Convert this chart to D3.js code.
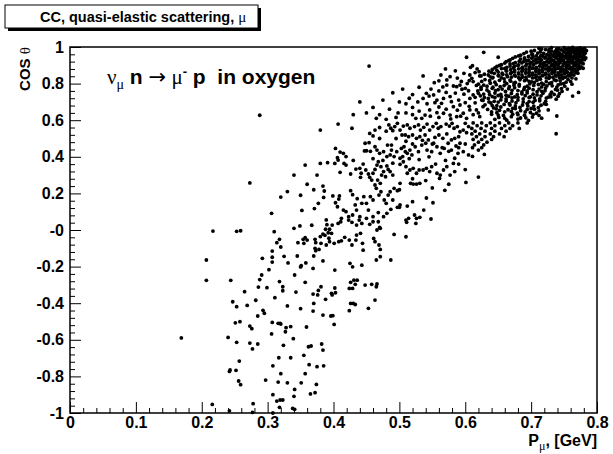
<!DOCTYPE html>
<html><head><meta charset="utf-8">
<script src="https://cdn.jsdelivr.net/npm/d3@7"></script>
<style>
body{margin:0;background:#fff}
svg{display:block}
text{font-family:"Liberation Sans",Arial,Helvetica,sans-serif;font-weight:bold;fill:#000;white-space:pre}
.sym{font-family:"Liberation Serif","Times New Roman",serif;font-weight:normal}
.arr{font-family:"DejaVu Sans",sans-serif;font-weight:normal}
</style>
</head><body>
<svg id="c" width="613" height="454"></svg>
<script>
const titleText = "CC, quasi-elastic scattering, ";
const xTicks = [0, 0.1, 0.2, 0.3, 0.4, 0.5, 0.6, 0.7, 0.8];
const xTickLabels = ["0", "0.1", "0.2", "0.3", "0.4", "0.5", "0.6", "0.7", "0.8"];
const yTicks = [-1, -0.8, -0.6, -0.4, -0.2, 0, 0.2, 0.4, 0.6, 0.8, 1];
const yTickLabels = ["-1", "-0.8", "-0.6", "-0.4", "-0.2", "-0", "0.2", "0.4", "0.6", "0.8", "1"];

// events: [P_mu (GeV), cos theta]
const eventsLow = [
[0.377,0.146],[0.403,0.149],[0.406,0.127],[0.371,0.117],[0.352,0.107],[0.306,0.091],[0.389,0.055],[0.407,0.036],[0.367,0.026],[0.349,0.022],[0.390,0.029],[0.398,0.027],[0.340,0.009],[0.388,0.004],[0.394,0.004],[0.217,-0.006],[0.253,-0.007],[0.259,-0.004],[0.310,-0.009],[0.392,-0.015],[0.397,-0.018],[0.384,-0.022],[0.387,-0.029],[0.357,-0.042],[0.354,-0.051],[0.360,-0.055],[0.318,-0.051],[0.372,-0.051],[0.380,-0.036],[0.393,-0.045],[0.314,-0.069],[0.346,-0.069],[0.355,-0.073],[0.373,-0.069],[0.381,-0.073],[0.389,-0.082],[0.401,-0.073],[0.408,-0.064],[0.394,-0.064],[0.320,-0.093],[0.372,-0.100],[0.378,-0.106],[0.373,-0.113],[0.307,-0.115],[0.207,-0.164],[0.292,-0.155],[0.307,-0.149],[0.325,-0.144],[0.345,-0.142],[0.370,-0.142],[0.307,-0.175],[0.331,-0.180],[0.358,-0.180],[0.384,-0.169],[0.351,-0.195],[0.350,-0.202],[0.302,-0.217],[0.369,-0.210],[0.402,-0.219],[0.291,-0.246],[0.341,-0.246],[0.288,-0.271],[0.244,-0.275],[0.207,-0.275],[0.318,-0.282],[0.357,-0.286],[0.286,-0.312],[0.299,-0.315],[0.323,-0.310],[0.381,-0.310],[0.377,-0.330],[0.402,-0.317],[0.403,-0.343],[0.397,-0.346],[0.398,-0.355],[0.369,-0.350],[0.376,-0.355],[0.265,-0.337],[0.323,-0.332],[0.343,-0.339],[0.311,-0.370],[0.388,-0.379],[0.247,-0.392],[0.282,-0.384],[0.253,-0.419],[0.269,-0.412],[0.330,-0.415],[0.350,-0.430],[0.370,-0.401],[0.369,-0.443],[0.293,-0.439],[0.295,-0.455],[0.285,-0.470],[0.384,-0.465],[0.396,-0.470],[0.399,-0.468],
[0.251,-0.507],[0.258,-0.501],[0.307,-0.505],[0.319,-0.510],[0.316,-0.510],[0.320,-0.514],[0.328,-0.534],[0.335,-0.528],[0.359,-0.530],[0.401,-0.516],[0.273,-0.525],[0.276,-0.539],[0.327,-0.556],[0.306,-0.568],[0.240,-0.587],[0.253,-0.614],[0.273,-0.618],[0.285,-0.623],[0.324,-0.630],[0.339,-0.594],[0.362,-0.638],[0.366,-0.634],[0.382,-0.623],[0.384,-0.656],[0.277,-0.650],[0.355,-0.685],[0.317,-0.698],[0.335,-0.698],[0.257,-0.716],[0.363,-0.736],[0.375,-0.747],[0.385,-0.742],[0.243,-0.765],[0.242,-0.773],[0.252,-0.767],[0.308,-0.742],[0.357,-0.785],[0.320,-0.785],[0.297,-0.820],[0.256,-0.825],[0.259,-0.845],[0.316,-0.831],[0.330,-0.835],[0.351,-0.835],[0.374,-0.844],[0.341,-0.871],[0.365,-0.896],[0.372,-0.889],[0.308,-0.900],[0.340,-0.909],[0.314,-0.935],[0.319,-0.929],[0.323,-0.929],[0.216,-0.953],[0.278,-0.949],[0.318,-0.969],[0.338,-0.975],[0.341,-0.980],[0.242,-0.988],[0.277,-0.997],[0.308,-1.000],[0.169,-0.590]
];
const eventsMid = [
[0.407,0.579],[0.428,0.556],[0.380,0.546],[0.484,0.574],[0.487,0.556],[0.490,0.543],[0.493,0.565],[0.497,0.583],[0.501,0.546],[0.504,0.519],[0.506,0.568],[0.512,0.574],[0.516,0.556],[0.523,0.565],[0.529,0.574],[0.532,0.546],[0.537,0.561],[0.542,0.579],[0.546,0.546],[0.551,0.565],[0.556,0.583],[0.559,0.556],[0.563,0.565],[0.571,0.579],[0.576,0.568],[0.580,0.583],[0.583,0.556],[0.588,0.565],[0.592,0.537],[0.597,0.546],[0.602,0.532],[0.605,0.565],[0.600,0.583],
[0.455,0.528],[0.460,0.514],[0.463,0.546],[0.509,0.519],[0.514,0.510],[0.520,0.519],[0.526,0.501],[0.531,0.510],[0.539,0.519],[0.544,0.492],[0.554,0.506],[0.560,0.519],[0.566,0.501],[0.572,0.525],[0.579,0.492],[0.584,0.501],[0.590,0.510],
[0.448,0.474],[0.454,0.477],[0.463,0.455],[0.466,0.437],[0.450,0.433],[0.447,0.432],[0.456,0.430],[0.488,0.464],[0.482,0.464],[0.488,0.437],[0.496,0.428],[0.503,0.446],[0.507,0.455],[0.509,0.428],[0.512,0.419],[0.516,0.437],[0.519,0.410],[0.524,0.455],[0.529,0.428],[0.534,0.464],[0.540,0.474],[0.542,0.437],[0.549,0.428],[0.552,0.474],[0.557,0.455],[0.562,0.419],[0.568,0.446],[0.574,0.474],[0.579,0.437],[0.586,0.459],[0.592,0.474],[0.597,0.428],[0.605,0.410],[0.584,0.392],[0.589,0.419],
[0.403,0.446],[0.410,0.426],[0.415,0.419],[0.419,0.401],[0.406,0.395],[0.407,0.382],[0.470,0.419],[0.476,0.428],[0.481,0.401],[0.486,0.410],[0.492,0.401],[0.501,0.392],[0.505,0.401],
[0.380,0.364],[0.391,0.368],[0.402,0.364],[0.410,0.315],[0.419,0.355],[0.416,0.364],[0.426,0.306],[0.434,0.333],[0.440,0.337],[0.442,0.310],[0.441,0.288],[0.449,0.328],[0.453,0.306],[0.455,0.288],[0.458,0.273],[0.460,0.310],[0.463,0.331],[0.466,0.355],[0.468,0.373],[0.472,0.346],[0.476,0.319],[0.481,0.350],[0.483,0.331],[0.486,0.319],[0.473,0.300],[0.467,0.273],[0.463,0.246],[0.471,0.255],[0.479,0.291],
[0.501,0.359],[0.506,0.373],[0.510,0.346],[0.512,0.310],[0.516,0.328],[0.521,0.337],[0.526,0.310],[0.530,0.328],[0.536,0.328],[0.541,0.337],[0.546,0.319],[0.549,0.346],[0.557,0.310],[0.562,0.300],[0.567,0.328],[0.572,0.346],[0.577,0.300],[0.584,0.319],[0.582,0.364],[0.501,0.255],[0.517,0.255],[0.521,0.251],[0.526,0.251],[0.531,0.255],[0.561,0.282],[0.601,0.260],
[0.384,0.240],[0.386,0.213],[0.385,0.178],[0.399,0.186],[0.409,0.186],[0.408,0.169],[0.415,0.109],[0.419,0.100],[0.426,0.215],[0.429,0.193],[0.433,0.137],[0.436,0.171],[0.443,0.146],[0.446,0.182],[0.450,0.146],[0.453,0.109],[0.456,0.182],[0.460,0.164],[0.465,0.228],[0.469,0.191],[0.472,0.209],[0.477,0.164],[0.480,0.146],[0.483,0.191],[0.486,0.209],[0.490,0.164],[0.492,0.228],[0.497,0.215],[0.500,0.124],[0.501,0.137],[0.512,0.131],[0.520,0.155],[0.541,0.175],[0.551,0.149],[0.537,0.109],[0.569,0.217],[0.548,0.060],
[0.412,0.064],[0.423,0.073],[0.429,0.082],[0.435,0.109],[0.440,0.073],[0.450,0.064],[0.460,0.073],[0.468,0.095],[0.476,0.073],[0.481,0.091],[0.487,0.113],[0.497,0.124],[0.510,0.054],[0.514,0.064],[0.523,0.082],[0.526,0.064],[0.531,0.069],[0.511,0.042],
[0.411,0.045],[0.423,0.054],[0.428,0.042],[0.435,0.027],[0.439,0.054],[0.443,0.036],[0.455,0.031],[0.460,0.045],[0.468,0.045],[0.471,0.009],[0.466,0.000],[0.470,0.014],[0.461,-0.046],[0.463,-0.064],[0.469,-0.082],[0.471,-0.106],[0.441,-0.018],[0.435,-0.028],[0.434,-0.055],[0.444,-0.073],[0.445,-0.110],[0.424,-0.055],[0.428,-0.082],[0.417,-0.040],[0.412,-0.059],[0.492,-0.024],[0.510,-0.037],[0.525,0.036],
[0.487,-0.164],[0.471,-0.146],[0.443,-0.192],[0.429,-0.201],[0.425,-0.182],[0.465,-0.164],[0.431,-0.274],[0.426,-0.286],[0.436,-0.274],[0.433,-0.297],[0.429,-0.319],[0.424,-0.319],[0.448,-0.301],[0.458,-0.297],[0.466,-0.295],[0.465,-0.310],[0.463,-0.383],[0.453,-0.428],[0.430,-0.401],[0.426,-0.401],[0.433,-0.407],[0.424,-0.441],
[0.470,0.560],[0.480,0.540],[0.495,0.500],[0.510,0.485],[0.520,0.470],[0.535,0.490],[0.550,0.470],[0.565,0.450],[0.575,0.430],[0.590,0.450],[0.600,0.470],[0.545,0.400],[0.530,0.385],[0.555,0.360],[0.570,0.380],[0.590,0.360],[0.600,0.330],[0.515,0.390],[0.490,0.365],[0.475,0.380],[0.460,0.390],[0.445,0.360],[0.430,0.380],[0.520,0.280],[0.540,0.270],[0.550,0.230],[0.575,0.250],[0.490,0.300],[0.500,0.220],[0.470,0.500]
];
const eventsUpperMid = [
[0.536,0.842],[0.563,0.847],[0.577,0.838],[0.608,0.889],[0.611,0.898],[0.607,0.847],[0.610,0.829],[0.606,0.816],[0.612,0.811],[0.615,0.860],[0.621,0.865],[0.572,0.792],[0.582,0.787],[0.587,0.783],[0.592,0.792],[0.595,0.769],[0.600,0.774],[0.605,0.761],[0.541,0.747],[0.545,0.732],[0.536,0.719],[0.552,0.738],[0.557,0.710],[0.554,0.696],[0.564,0.692],[0.567,0.719],[0.577,0.729],[0.579,0.701],[0.582,0.674],[0.590,0.710],[0.592,0.683],[0.600,0.696],[0.607,0.719],[0.615,0.725],[0.620,0.747],[0.625,0.710],[0.627,0.674],[0.617,0.656],[0.607,0.656],[0.597,0.638],[0.587,0.619],[0.577,0.628],[0.567,0.638],[0.557,0.641],[0.546,0.656],[0.539,0.628],[0.534,0.610],[0.622,0.619],[0.602,0.610],
[0.548,0.770],[0.560,0.760],[0.571,0.752],[0.585,0.748],[0.598,0.742],[0.612,0.738],[0.566,0.782],[0.594,0.812],[0.603,0.800],[0.617,0.790],[0.588,0.830],[0.598,0.856],[0.572,0.820],[0.553,0.805],[0.542,0.690],[0.560,0.672],[0.571,0.660],[0.588,0.655],[0.606,0.676],[0.615,0.695],[0.547,0.622],[0.560,0.615],[0.578,0.607],[0.593,0.622],[0.612,0.630],[0.620,0.640],[0.528,0.700],[0.530,0.650],[0.520,0.630],[0.585,0.870],[0.570,0.880],[0.560,0.815],[0.624,0.780],[0.622,0.842],[0.618,0.880],
[0.475,0.710],[0.490,0.750],[0.505,0.770],[0.510,0.690],[0.460,0.670],[0.440,0.700],[0.480,0.605],[0.465,0.610],[0.450,0.640],[0.520,0.740],[0.530,0.780],[0.498,0.640],
[0.454,0.896],[0.510,0.640],[0.495,0.615],[0.520,0.670],[0.500,0.700],[0.470,0.630],[0.485,0.660],[0.515,0.720],[0.525,0.610],[0.430,0.630],[0.288,0.627],[0.273,0.257],
[0.357,0.355],[0.340,0.300],[0.360,0.250],[0.330,0.210],[0.350,0.190],[0.370,0.220],[0.375,0.300],[0.320,0.180]
];
const eventsHigh = [
[0.712,0.993],[0.731,0.997],[0.742,0.991],[0.750,0.996],[0.757,0.992],[0.763,0.998],[0.769,0.990],[0.775,0.995],[0.781,0.993],
[0.705,0.981],[0.722,0.986],[0.737,0.979],[0.746,0.984],[0.753,0.987],[0.760,0.980],[0.766,0.985],[0.772,0.982],[0.778,0.987],[0.784,0.980],
[0.693,0.972],[0.710,0.967],[0.727,0.973],[0.735,0.969],[0.743,0.966],[0.750,0.972],[0.757,0.968],[0.763,0.974],[0.770,0.967],[0.776,0.971],[0.782,0.966],
[0.684,0.955],[0.701,0.960],[0.715,0.954],[0.724,0.958],[0.733,0.953],[0.740,0.959],[0.747,0.955],[0.754,0.961],[0.760,0.954],[0.767,0.958],[0.773,0.952],[0.779,0.957],
[0.676,0.946],[0.690,0.941],[0.703,0.947],[0.713,0.942],[0.722,0.945],[0.730,0.940],[0.738,0.946],[0.745,0.943],[0.752,0.948],[0.759,0.941],[0.765,0.946],[0.771,0.942],[0.777,0.947],[0.783,0.940],
[0.668,0.929],[0.684,0.934],[0.696,0.928],[0.707,0.933],[0.716,0.930],[0.726,0.935],[0.734,0.927],[0.742,0.932],[0.749,0.928],[0.756,0.934],[0.763,0.929],[0.769,0.933],[0.775,0.927],[0.781,0.931],
[0.662,0.920],[0.676,0.915],[0.689,0.921],[0.700,0.916],[0.711,0.919],[0.720,0.914],[0.729,0.920],[0.737,0.916],[0.745,0.922],[0.752,0.915],[0.760,0.919],[0.767,0.914],[0.774,0.920],
[0.655,0.903],[0.668,0.908],[0.681,0.902],[0.693,0.907],[0.704,0.904],[0.714,0.909],[0.723,0.901],[0.732,0.906],[0.741,0.903],[0.749,0.908],[0.757,0.902],[0.765,0.907],[0.772,0.903],[0.779,0.909],
[0.648,0.894],[0.663,0.889],[0.675,0.895],[0.687,0.890],[0.698,0.893],[0.708,0.888],[0.718,0.894],[0.727,0.890],[0.736,0.896],[0.744,0.889],[0.753,0.893],[0.761,0.888],[0.769,0.895],[0.776,0.891],
[0.641,0.877],[0.655,0.882],[0.669,0.876],[0.681,0.881],[0.692,0.878],[0.702,0.883],[0.712,0.875],[0.722,0.880],[0.731,0.877],[0.740,0.882],[0.749,0.876],[0.758,0.881],[0.766,0.877],[0.774,0.883],
[0.636,0.868],[0.650,0.863],[0.663,0.869],[0.675,0.864],[0.686,0.867],[0.697,0.862],[0.707,0.868],[0.717,0.864],[0.727,0.870],[0.736,0.863],[0.745,0.867],[0.755,0.862],[0.764,0.868],
[0.629,0.851],[0.644,0.856],[0.657,0.850],[0.669,0.855],[0.681,0.852],[0.692,0.857],[0.702,0.849],[0.712,0.854],[0.722,0.851],[0.732,0.856],[0.742,0.850],[0.751,0.855],[0.761,0.851],[0.771,0.857],
[0.624,0.842],[0.638,0.837],[0.651,0.843],[0.664,0.838],[0.676,0.841],[0.687,0.836],[0.697,0.842],[0.708,0.838],[0.718,0.844],[0.728,0.837],[0.738,0.841],[0.748,0.836],[0.758,0.842],
[0.630,0.822],[0.641,0.831],[0.659,0.826],[0.668,0.819],[0.684,0.829],[0.693,0.822],[0.707,0.832],[0.714,0.824],[0.727,0.829],[0.735,0.820],[0.748,0.828],[0.756,0.823],[0.768,0.826],
[0.625,0.812],[0.645,0.808],[0.652,0.818],[0.669,0.813],[0.676,0.806],[0.690,0.816],[0.701,0.809],[0.709,0.818],[0.723,0.811],[0.731,0.805],[0.744,0.815],[0.753,0.808],
[0.620,0.797],[0.638,0.802],[0.647,0.794],[0.663,0.800],[0.674,0.803],[0.682,0.795],[0.698,0.799],[0.705,0.806],[0.719,0.796],[0.728,0.801],[0.741,0.793],[0.749,0.800],[0.762,0.797],
[0.633,0.786],[0.642,0.780],[0.659,0.789],[0.667,0.783],[0.682,0.787],[0.690,0.779],[0.704,0.790],[0.716,0.782],[0.724,0.788],[0.739,0.781],[0.751,0.786],
[0.624,0.769],[0.641,0.774],[0.650,0.767],[0.666,0.772],[0.675,0.777],[0.689,0.768],[0.697,0.775],[0.712,0.770],[0.722,0.776],[0.737,0.768],[0.746,0.773],
[0.619,0.760],[0.636,0.755],[0.646,0.762],[0.661,0.757],[0.671,0.763],[0.686,0.754],[0.694,0.760],[0.709,0.756],[0.721,0.761],[0.731,0.753],[0.747,0.758],
[0.628,0.743],[0.645,0.748],[0.654,0.741],[0.670,0.746],[0.679,0.740],[0.694,0.749],[0.703,0.742],[0.718,0.747],[0.729,0.740],[0.743,0.745],
[0.623,0.733],[0.641,0.729],[0.650,0.735],[0.666,0.731],[0.675,0.727],[0.691,0.734],[0.699,0.728],[0.715,0.733],[0.726,0.726],[0.741,0.731],
[0.635,0.719],[0.645,0.724],[0.662,0.716],[0.671,0.722],[0.688,0.717],[0.697,0.724],[0.713,0.716],[0.723,0.721],[0.738,0.715],
[0.627,0.708],[0.644,0.703],[0.654,0.711],[0.671,0.705],[0.680,0.710],[0.697,0.702],[0.706,0.708],[0.722,0.703],
[0.639,0.694],[0.650,0.699],[0.667,0.690],[0.677,0.696],[0.694,0.691],[0.703,0.698],[0.720,0.690],
[0.630,0.684],[0.648,0.679],[0.659,0.686],[0.676,0.678],[0.687,0.683],[0.704,0.677],[0.715,0.682],
[0.643,0.667],[0.654,0.672],[0.672,0.665],[0.683,0.670],[0.700,0.664],[0.711,0.669],
[0.634,0.659],[0.652,0.654],[0.665,0.657],[0.684,0.652],[0.694,0.659],[0.712,0.651],[0.726,0.656],
[0.648,0.641],[0.660,0.646],[0.679,0.639],[0.691,0.645],[0.708,0.638],
[0.640,0.632],[0.658,0.626],[0.672,0.633],[0.690,0.627],[0.703,0.631],[0.739,0.623],
[0.651,0.615],[0.670,0.619],[0.684,0.612],[0.702,0.617],[0.716,0.611],
[0.645,0.605],[0.663,0.600],[0.680,0.606],[0.696,0.599],
[0.612,0.585],[0.625,0.585],[0.638,0.585],[0.652,0.585],[0.666,0.585],[0.680,0.585],[0.694,0.585],
[0.618,0.57],[0.632,0.57],[0.645,0.57],[0.660,0.57],[0.672,0.57],
[0.610,0.555],[0.624,0.555],[0.640,0.555],[0.655,0.555],[0.668,0.555],[0.682,0.555],
[0.615,0.54],[0.630,0.54],[0.645,0.54],[0.662,0.54],
[0.610,0.525],[0.622,0.525],[0.638,0.525],[0.652,0.525],[0.738,0.526],
[0.617,0.51],[0.630,0.51],[0.643,0.51],[0.659,0.51],
[0.612,0.495],[0.625,0.495],[0.640,0.495],
[0.620,0.48],[0.633,0.48],[0.614,0.465],[0.628,0.465],[0.611,0.45],[0.625,0.45],[0.620,0.437],[0.629,0.413],[0.611,0.402],[0.620,0.289],
[0.602,0.944],[0.628,0.971],[0.650,0.944],[0.772,0.752],[0.763,0.732]
];
const eventsDense = [
[0.716,0.989],[0.727,0.985],[0.739,0.990],[0.754,0.986],[0.760,0.991],[0.766,0.987],[0.772,0.992],[0.779,0.985],
[0.700,0.977],[0.714,0.974],[0.731,0.979],[0.741,0.975],[0.749,0.978],[0.756,0.974],[0.763,0.979],[0.769,0.975],[0.775,0.980],[0.781,0.975],
[0.689,0.964],[0.702,0.961],[0.719,0.965],[0.730,0.962],[0.737,0.966],[0.746,0.960],[0.753,0.965],[0.760,0.962],[0.766,0.966],[0.773,0.961],[0.779,0.965],
[0.681,0.951],[0.696,0.948],[0.708,0.952],[0.718,0.949],[0.727,0.953],[0.735,0.948],[0.742,0.952],[0.749,0.947],[0.756,0.951],[0.762,0.948],[0.768,0.953],[0.774,0.949],[0.780,0.952],
[0.672,0.938],[0.690,0.935],[0.701,0.939],[0.711,0.936],[0.721,0.940],[0.730,0.935],[0.738,0.939],[0.746,0.936],[0.753,0.940],[0.759,0.936],[0.766,0.939],[0.772,0.935],[0.778,0.938],
[0.666,0.925],[0.682,0.922],[0.693,0.926],[0.704,0.923],[0.715,0.927],[0.724,0.922],[0.733,0.926],[0.741,0.923],[0.748,0.927],[0.756,0.922],[0.763,0.925],[0.770,0.922],[0.777,0.926],
[0.660,0.912],[0.673,0.909],[0.686,0.913],[0.698,0.910],[0.708,0.914],[0.718,0.909],[0.727,0.913],[0.736,0.910],[0.744,0.914],[0.753,0.909],[0.761,0.913],[0.768,0.910],[0.776,0.914],
[0.652,0.899],[0.668,0.896],[0.680,0.900],[0.692,0.897],[0.703,0.901],[0.713,0.896],[0.722,0.900],[0.731,0.897],[0.740,0.901],[0.748,0.896],[0.757,0.900],[0.765,0.897],[0.772,0.899],
[0.645,0.886],[0.660,0.883],[0.673,0.887],[0.686,0.884],[0.697,0.887],[0.707,0.883],[0.717,0.886],[0.726,0.883],[0.735,0.887],[0.745,0.883],[0.754,0.886],[0.763,0.883],[0.771,0.887],[0.779,0.884],
[0.648,0.873],[0.662,0.870],[0.675,0.874],[0.687,0.871],[0.697,0.874],[0.707,0.870],[0.717,0.873],[0.726,0.870],[0.736,0.874],[0.745,0.871],[0.753,0.874],[0.762,0.870],[0.770,0.873],
[0.640,0.860],[0.656,0.857],[0.670,0.861],[0.681,0.858],[0.692,0.861],[0.702,0.857],[0.712,0.860],[0.722,0.857],[0.732,0.861],[0.741,0.858],[0.750,0.861],[0.760,0.857],[0.768,0.860],
[0.635,0.847],[0.650,0.844],[0.663,0.848],[0.675,0.845],[0.686,0.848],[0.697,0.844],[0.707,0.847],[0.717,0.844],[0.727,0.848],[0.737,0.845],[0.746,0.848],[0.756,0.844],[0.765,0.847],
[0.642,0.834],[0.655,0.831],[0.670,0.835],[0.681,0.832],[0.692,0.835],[0.702,0.831],[0.713,0.834],[0.723,0.831],[0.733,0.835],[0.743,0.832],[0.752,0.835],[0.762,0.831],
[0.637,0.816],[0.660,0.809],[0.683,0.821],[0.697,0.812],[0.716,0.803],[0.738,0.817],[0.760,0.811],
[0.628,0.792],[0.653,0.784],[0.674,0.791],[0.694,0.786],[0.711,0.795],[0.732,0.788],[0.745,0.798],
[0.633,0.765],[0.656,0.770],[0.680,0.762],[0.703,0.767],[0.716,0.758],[0.740,0.764],[0.755,0.770],
[0.637,0.740],[0.662,0.737],[0.686,0.744],[0.709,0.738],[0.735,0.741],
[0.629,0.724],[0.655,0.727],[0.680,0.725],[0.705,0.722],[0.730,0.728],
[0.636,0.700],[0.662,0.704],[0.688,0.700],[0.713,0.706],
[0.641,0.680],[0.668,0.683],[0.695,0.678],[0.723,0.687],
[0.647,0.662],[0.676,0.664],[0.705,0.660],
[0.640,0.645],[0.670,0.648],[0.699,0.642],
[0.650,0.628],[0.680,0.630],[0.712,0.626],
[0.660,0.611],[0.692,0.613]
];

const events = eventsLow.concat(eventsMid, eventsUpperMid, eventsHigh, eventsDense);

const x = d3.scaleLinear().domain([0, 0.8]).range([70, 597]);
const y = d3.scaleLinear().domain([-1, 1]).range([413, 47]);
const svg = d3.select("#c");

// title box with shadow
svg.append("rect").attr("x", 8).attr("y", 8).attr("width", 253).attr("height", 23).attr("fill", "#000");
svg.append("rect").attr("x", 5).attr("y", 5).attr("width", 253).attr("height", 23)
  .attr("fill", "#fff").attr("stroke", "#000").attr("stroke-width", 1);
const tt = svg.append("text").attr("x", 40).attr("y", 22).style("font-size", "14.5px");
tt.append("tspan").text(titleText);
tt.append("tspan").attr("class", "sym").style("font-size", "15px").text("μ");

// points
svg.append("g").selectAll("circle").data(events).join("circle")
  .attr("cx", d => x(d[0])).attr("cy", d => y(d[1])).attr("r", 1.9).attr("fill", "#000");

// axes with inward ticks
const xMinor = d3.range(0, 41).map(i => i * 0.02).filter((v, i) => i % 5 !== 0);
const yMinor = d3.range(0, 51).map(i => -1 + i * 0.04).filter((v, i) => i % 5 !== 0);
const gx = svg.append("g").attr("transform", `translate(0,${y(-1)})`);
gx.call(d3.axisBottom(x).tickValues(xMinor).tickSize(-5).tickFormat(""));
gx.call(g => g.select(".domain").remove());
const gx2 = svg.append("g").attr("transform", `translate(0,${y(-1)})`);
gx2.call(d3.axisBottom(x).tickValues(xTicks).tickSize(-11).tickPadding(4).tickFormat((d, i) => xTickLabels[i]));
gx2.call(g => g.select(".domain").remove());
const gy = svg.append("g").attr("transform", `translate(${x(0)},0)`);
gy.call(d3.axisLeft(y).tickValues(yMinor).tickSize(-5).tickFormat(""));
gy.call(g => g.select(".domain").remove());
const gy2 = svg.append("g").attr("transform", `translate(${x(0)},0)`);
gy2.call(d3.axisLeft(y).tickValues(yTicks).tickSize(-11).tickPadding(6).tickFormat((d, i) => yTickLabels[i]));
gy2.call(g => g.select(".domain").remove());
svg.selectAll(".tick line").attr("stroke", "#000").attr("stroke-width", 1);
svg.selectAll(".tick text").style("font-size", "16px").style("font-family", '"Liberation Sans",Arial,sans-serif').style("font-weight", "bold");

// frame
svg.append("rect").attr("x", x(0)).attr("y", y(1)).attr("width", x(0.8) - x(0)).attr("height", y(-1) - y(1))
  .attr("fill", "none").attr("stroke", "#000").attr("stroke-width", 1.5);

// axis titles
const xt = svg.append("text").attr("x", x(0.8)).attr("y", 446).attr("text-anchor", "end").style("font-size", "16px");
xt.append("tspan").text("P");
xt.append("tspan").attr("class", "sym").attr("dy", 4).style("font-size", "12px").text("μ");
xt.append("tspan").attr("dy", -4).text(", [GeV]");

const yt = svg.append("text").attr("transform", `translate(30,${y(1)}) rotate(-90)`).attr("text-anchor", "end").style("font-size", "15px");
yt.append("tspan").text("COS ");
yt.append("tspan").attr("class", "sym").text("θ");

// in-plot label
const lab = svg.append("text").attr("x", 107).attr("y", 84).style("font-size", "21px");
lab.append("tspan").attr("class", "sym").text("ν");
lab.append("tspan").attr("class", "sym").attr("dy", 5).style("font-size", "14px").text("μ");
lab.append("tspan").attr("dy", -5).text(" n ");
lab.append("tspan").attr("class", "arr").text("→");
lab.append("tspan").attr("class", "sym").text(" μ");
lab.append("tspan").attr("dy", -8).style("font-size", "13px").text("-");
lab.append("tspan").attr("dy", 8).text(" p  in oxygen");
</script>
</body></html>
